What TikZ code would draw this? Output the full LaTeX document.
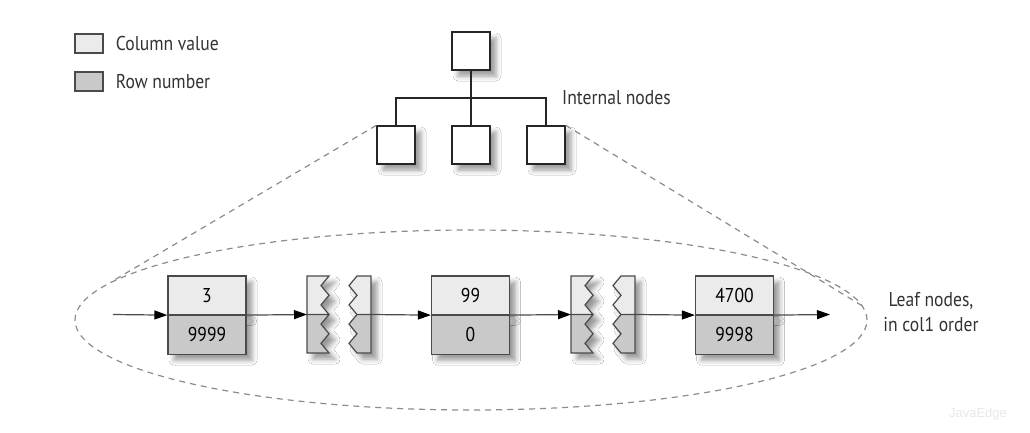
\documentclass[tikz,border=0pt]{standalone}
\usepackage{fontspec}
\setmainfont[FakeStretch=0.88]{PT Sans}
\setsansfont{Liberation Sans}
\usetikzlibrary{shapes.geometric, arrows.meta, positioning, shadows.blur}

\definecolor{keyfill}{HTML}{EBEBEB}
\definecolor{rowfill}{HTML}{C9C9C9}
\definecolor{edgegray}{HTML}{4A4A4A}

\begin{document}
\begin{tikzpicture}[
    x=1pt, y=-1pt,
    >={Triangle[length=13pt, width=9pt, black]},
    font=\fontsize{20}{25}\selectfont,
    softshadow/.style={blur shadow={shadow xshift=6pt, shadow yshift=-6pt, shadow blur radius=5pt, shadow opacity=40}},
    inner/.style={rectangle, draw=black!85, line width=1.4pt, fill=white, minimum size=38pt, inner sep=0pt, softshadow},
    legendbox/.style={rectangle, draw=edgegray, line width=1.4pt, minimum width=28pt, minimum height=19pt, inner sep=0pt},
    keycell/.style={rectangle, draw=edgegray, line width=1.2pt, fill=keyfill, minimum width=78pt, minimum height=38.5pt, inner sep=0pt, softshadow},
    rowcell/.style={keycell, fill=rowfill},
    tree/.style={draw=black!85, line width=1.3pt},
    link/.style={->, line width=1.2pt, draw=black!70},
    zoomline/.style={dashed, dash pattern=on 6pt off 5pt, line width=1.2pt, draw=black!45}
]

% background and page size
\fill[white] (0,0) rectangle (1030,432);

% ==================== Legend ====================
\node[legendbox, fill=keyfill] (keybox) at (89,43.5) {};
\node[right=12pt of keybox, inner sep=0pt, text=black!80] (keytext) {Column value};
\node[legendbox, fill=rowfill] (rowbox) at (89,81.5) {};
\node[right=12pt of rowbox, inner sep=0pt, text=black!80] (rowtext) {Row number};

% ==================== Internal nodes ====================
\node[inner] (root) at (471,51) {};
\node[inner] (c1) at (396,145) {};
\node[inner] (c2) at (471,145) {};
\node[inner] (c3) at (546,145) {};
\coordinate (bar) at (471,98);

\draw[tree] (root.south) -- (c2.north);
\draw[tree] (c1.north) |- (bar) -| (c3.north);
\node[anchor=west, inner sep=0pt, text=black!80] (intlabel) at (562,98) {Internal nodes};

% ==================== Leaf level ====================
\node[ellipse, zoomline, minimum width=792pt, minimum height=180pt, inner sep=0pt] (zone) at (471,320) {};
\draw[zoomline] (c1.north west) -- (zone.174);
\draw[zoomline] (c3.north east) -- (zone.2);

\node[keycell] (k1) at (207,295.25) {3};
\node[rowcell, below=0pt of k1] (r1) {9999};
\node[keycell] (k2) at (470.5,295.25) {99};
\node[rowcell, below=0pt of k2] (r2) {0};
\node[keycell] (k3) at (734.5,295.25) {4700};
\node[rowcell, below=0pt of k3] (r3) {9998};

% torn pages between the leaves
\foreach \tx [count=\i] in {307, 571} {
    \path[fill=white, softshadow] (\tx,276) -- (\tx+22,276) -- (\tx+14,285.6) -- (\tx+22,295.25) -- (\tx+14,304.9) -- (\tx+22,314.5)
        -- (\tx+14,324.1) -- (\tx+22,333.75) -- (\tx+14,343.4) -- (\tx+22,353) -- (\tx,353) -- cycle;
    \path[fill=white, softshadow] (\tx+50,276) -- (\tx+64,276) -- (\tx+64,353) -- (\tx+50,353) -- (\tx+42,343.4) -- (\tx+50,333.75)
        -- (\tx+42,324.1) -- (\tx+50,314.5) -- (\tx+42,304.9) -- (\tx+50,295.25) -- (\tx+42,285.6) -- cycle;
    \fill[keyfill] (\tx,276) -- (\tx+22,276) -- (\tx+14,285.6) -- (\tx+22,295.25) -- (\tx+14,304.9) -- (\tx+22,314.5) -- (\tx,314.5) -- cycle;
    \fill[rowfill] (\tx,314.5) -- (\tx+22,314.5) -- (\tx+14,324.1) -- (\tx+22,333.75) -- (\tx+14,343.4) -- (\tx+22,353) -- (\tx,353) -- cycle;
    \fill[keyfill] (\tx+50,276) -- (\tx+64,276) -- (\tx+64,314.5) -- (\tx+50,314.5) -- (\tx+42,304.9) -- (\tx+50,295.25) -- (\tx+42,285.6) -- cycle;
    \fill[rowfill] (\tx+50,314.5) -- (\tx+64,314.5) -- (\tx+64,353) -- (\tx+50,353) -- (\tx+42,343.4) -- (\tx+50,333.75) -- (\tx+42,324.1) -- cycle;
    \draw[edgegray, line width=1.2pt, line join=miter] (\tx,276) -- (\tx+22,276) -- (\tx+14,285.6) -- (\tx+22,295.25) -- (\tx+14,304.9) -- (\tx+22,314.5)
        -- (\tx+14,324.1) -- (\tx+22,333.75) -- (\tx+14,343.4) -- (\tx+22,353) -- (\tx,353) -- cycle (\tx,314.5) -- (\tx+22,314.5);
    \draw[edgegray, line width=1.2pt, line join=miter] (\tx+50,276) -- (\tx+64,276) -- (\tx+64,353) -- (\tx+50,353) -- (\tx+42,343.4) -- (\tx+50,333.75)
        -- (\tx+42,324.1) -- (\tx+50,314.5) -- (\tx+42,304.9) -- (\tx+50,295.25) -- (\tx+42,285.6) -- cycle (\tx+50,314.5) -- (\tx+64,314.5);
    \coordinate (tornin\i) at (\tx,314.5);
    \coordinate (tornout\i) at (\tx+64,314.5);
}

% chain of leaves
\coordinate (entry) at (113,314.5);
\coordinate (exit) at (830,314.5);
\draw[link] (entry) -- (k1.south west);
\draw[link] (k1.south east) -- (tornin1);
\draw[link] (tornout1) -- (k2.south west);
\draw[link] (k2.south east) -- (tornin2);
\draw[link] (tornout2) -- (k3.south west);
\draw[link] (k3.south east) -- (exit);

\node[align=center, inner sep=0pt, text=black!80] (leaflabel) at (931,312) {Leaf nodes,\\in col1 order};

% watermark
\node[text=black!9, font=\sffamily\fontsize{13}{14}\selectfont] (mark) at (978,414) {JavaEdge};

\end{tikzpicture}
\end{document}
